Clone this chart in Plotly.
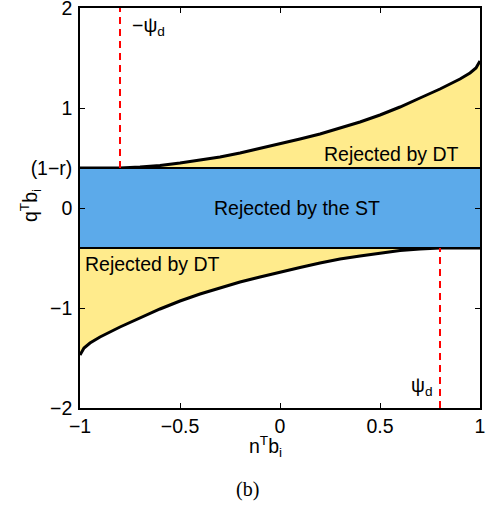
import plotly.graph_objects as go

# ---- data ----
x_range = [-1.0, 1.0]
band_hi = 0.40   # (1-r)
band_lo = -0.40
psi_d = 0.8

upper_x = [-1.0, -0.8, -0.7, -0.6, -0.5, -0.4, -0.3, -0.2, -0.1, 0.0, 0.1, 0.2, 0.3,
           0.4, 0.5, 0.6, 0.7, 0.8, 0.9, 0.95, 0.98, 1.0]
upper_y = [0.40, 0.40, 0.41, 0.425, 0.45, 0.48, 0.51, 0.55, 0.595, 0.64, 0.69, 0.74, 0.80,
           0.86, 0.93, 1.01, 1.10, 1.19, 1.29, 1.35, 1.40, 1.47]

lower_x = [-1.0, -0.98, -0.95, -0.9, -0.8, -0.7, -0.6, -0.5, -0.4, -0.3, -0.2, -0.1, 0.0,
           0.1, 0.2, 0.3, 0.4, 0.5, 0.6, 0.7, 0.8, 1.0]
lower_y = [-1.47, -1.40, -1.35, -1.29, -1.19, -1.10, -1.01, -0.93, -0.86, -0.80, -0.74, -0.69, -0.64,
           -0.595, -0.55, -0.51, -0.48, -0.45, -0.425, -0.41, -0.40, -0.40]

x_ticks = [-1, -0.5, 0, 0.5, 1]
x_ticktext = ["\u22121", "\u22120.5", "0", "0.5", "1"]
y_ticks = [-2, -1, 0, 0.4, 1, 2]
y_ticktext = ["\u22122", "\u22121", "0", "(1\u2212r)", "1", "2"]

YELLOW = "rgb(255,235,140)"
BLUE = "rgb(92,170,234)"
FONT = "Liberation Sans, Arial, sans-serif"

fig = go.Figure()

# upper yellow region
fig.add_trace(go.Scatter(x=upper_x, y=[band_hi] * len(upper_x), mode="lines",
                         line=dict(width=0), hoverinfo="skip", showlegend=False))
fig.add_trace(go.Scatter(x=upper_x, y=upper_y, mode="lines", fill="tonexty",
                         fillcolor=YELLOW, line=dict(color="black", width=3),
                         showlegend=False))
# lower yellow region
fig.add_trace(go.Scatter(x=lower_x, y=[band_lo] * len(lower_x), mode="lines",
                         line=dict(width=0), hoverinfo="skip", showlegend=False))
fig.add_trace(go.Scatter(x=lower_x, y=lower_y, mode="lines", fill="tonexty",
                         fillcolor=YELLOW, line=dict(color="black", width=3),
                         showlegend=False))
# blue band
fig.add_trace(go.Scatter(x=x_range, y=[band_lo, band_lo], mode="lines",
                         line=dict(color="black", width=2), showlegend=False))
fig.add_trace(go.Scatter(x=x_range, y=[band_hi, band_hi], mode="lines", fill="tonexty",
                         fillcolor=BLUE, line=dict(color="black", width=2),
                         showlegend=False))
# dashed psi_d lines
fig.add_trace(go.Scatter(x=[-psi_d, -psi_d], y=[band_hi, 2], mode="lines",
                         line=dict(color="red", width=2, dash="7px,5px"), showlegend=False))
fig.add_trace(go.Scatter(x=[psi_d, psi_d], y=[-2, band_lo], mode="lines",
                         line=dict(color="red", width=2, dash="7px,5px"), showlegend=False))

ann_font = dict(family=FONT, size=19.5, color="black")
annotations = [
    dict(x=-0.75, y=1.82, xref="x", yref="y", text="\u2212\u03c8<sub>d</sub>",
         showarrow=False, xanchor="left", yanchor="middle", font=ann_font),
    dict(x=0.775, y=-1.78, xref="x", yref="y", text="\u03c8<sub>d</sub>",
         showarrow=False, xanchor="right", yanchor="middle", font=ann_font),
    dict(x=0.555, y=0.54, xref="x", yref="y", text="Rejected by DT",
         showarrow=False, xanchor="center", yanchor="middle", font=ann_font),
    dict(x=-0.64, y=-0.56, xref="x", yref="y", text="Rejected by DT",
         showarrow=False, xanchor="center", yanchor="middle", font=ann_font),
    dict(x=0.085, y=0.0, xref="x", yref="y", text="Rejected by the ST",
         showarrow=False, xanchor="center", yanchor="middle", font=ann_font),
    dict(x=0.4625, y=-0.095, xref="paper", yref="paper", text="n<sup>T</sup>b<sub>i</sub>",
         showarrow=False, xanchor="center", yanchor="middle", font=ann_font),
    dict(x=-0.125, y=0.505, xref="paper", yref="paper", text="q<sup>T</sup>b<sub>i</sub>",
         showarrow=False, xanchor="center", yanchor="middle", textangle=-90, font=ann_font),
    dict(x=0.4175, y=-0.2025, xref="paper", yref="paper", text="(b)",
         showarrow=False, xanchor="center", yanchor="middle",
         font=dict(family="Liberation Serif, DejaVu Serif, serif", size=20, color="black")),
]

axis_common = dict(showline=True, linecolor="black", linewidth=1.5, mirror="ticks",
                   ticks="inside", ticklen=5, tickwidth=1, tickcolor="black",
                   showgrid=False, zeroline=False, ticklabeloverflow="allow",
                   automargin=False,
                   tickfont=dict(family=FONT, size=19.5, color="black"))

fig.update_layout(
    width=492, height=505,
    margin=dict(l=80, r=12, t=8, b=97, autoexpand=False),
    paper_bgcolor="white", plot_bgcolor="white",
    xaxis=dict(range=x_range, tickvals=x_ticks, ticktext=x_ticktext, **axis_common),
    yaxis=dict(range=[-2, 2], tickvals=y_ticks, ticktext=y_ticktext, **axis_common),
    annotations=annotations,
    showlegend=False,
)
fig.update_xaxes(ticklabelstandoff=0)
fig.update_yaxes(ticklabelstandoff=2)

fig.write_html("out.html", config={"displayModeBar": False},
               post_script="document.body.style.margin='0';document.body.style.padding='0';")
